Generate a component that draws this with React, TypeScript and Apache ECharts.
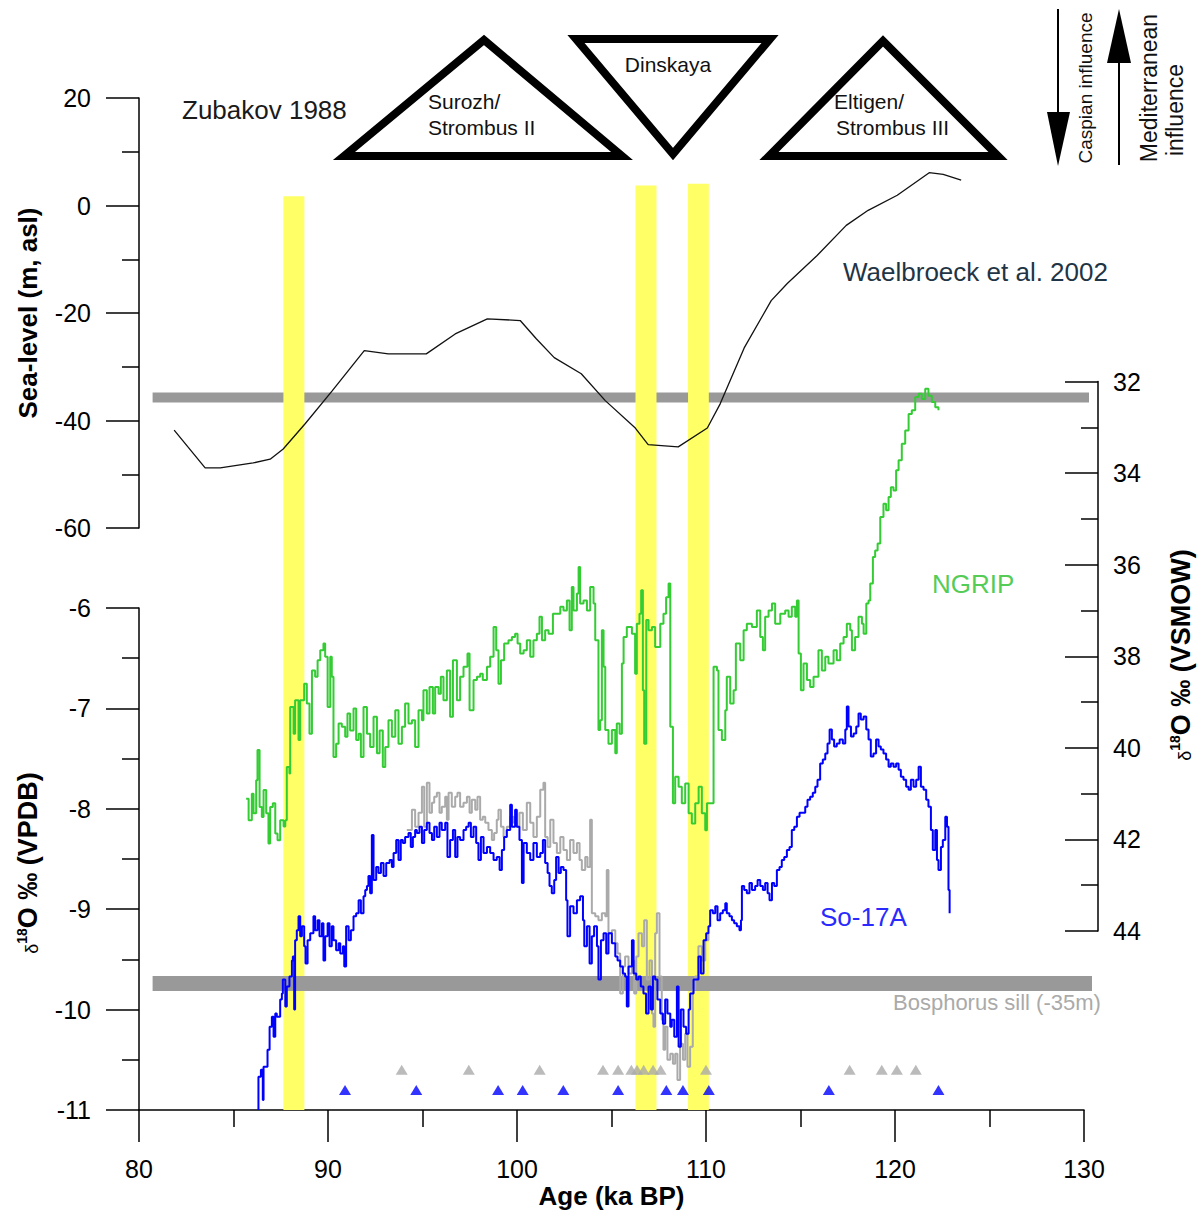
import React, { useEffect, useRef } from "react";
import * as echarts from "echarts";

const FONT = "'Liberation Sans', Arial, Helvetica, sans-serif";

// ---- Waelbroeck et al. 2002 sea level (m asl) ----
const waelbroeckAge = [81.86, 83.5, 84.3, 86.04, 86.94, 87.63, 88.79, 90.22, 91.92, 93.19, 95.2, 96.73, 98.43, 100.17, 101.02, 101.97, 103.4, 104.67, 106.26, 106.94, 108.53, 110.07, 110.75, 112.02, 113.45, 114.3, 115.88, 117.42, 118.58, 120.12, 121.81, 122.55, 123.5];
const waelbroeckSeaLevel = [-41.8, -48.8, -48.8, -47.9, -47.2, -45.3, -40.6, -34.5, -27.0, -27.6, -27.6, -23.9, -21.1, -21.4, -24.8, -28.3, -31.3, -36.3, -41.4, -44.5, -44.9, -41.4, -36.9, -26.5, -17.7, -14.5, -9.3, -3.7, -0.9, 1.9, 6.1, 5.8, 4.7];

// ---- NGRIP d18O (permil VSMOW, plotted on inverted right axis) ----
const ngripAge = [85.67, 85.8, 85.97, 86.06, 86.2, 86.27, 86.38, 86.5, 86.59, 86.73, 86.85, 86.94, 87.08, 87.21, 87.33, 87.47, 87.65, 87.74, 87.82, 87.96, 88.0, 88.18, 88.26, 88.44, 88.53, 88.74, 88.88, 89.02, 89.15, 89.32, 89.45, 89.59, 89.76, 89.85, 89.98, 90.12, 90.2, 90.29, 90.43, 90.56, 90.73, 90.91, 91.03, 91.17, 91.35, 91.49, 91.62, 91.74, 91.88, 92.06, 92.23, 92.41, 92.59, 92.73, 92.9, 93.03, 93.2, 93.38, 93.56, 93.73, 93.91, 94.08, 94.26, 94.44, 94.61, 94.79, 94.97, 95.05, 95.23, 95.37, 95.55, 95.67, 95.85, 95.97, 96.11, 96.29, 96.46, 96.61, 96.82, 96.99, 97.17, 97.38, 97.49, 97.7, 97.88, 98.05, 98.19, 98.41, 98.58, 98.76, 98.9, 99.02, 99.15, 99.32, 99.55, 99.73, 99.9, 100.03, 100.17, 100.35, 100.52, 100.7, 100.87, 101.05, 101.19, 101.32, 101.49, 101.67, 101.9, 102.11, 102.29, 102.46, 102.64, 102.78, 102.9, 102.99, 103.17, 103.26,
  103.34, 103.52, 103.7, 103.87, 104.05, 104.14, 104.31, 104.4, 104.49, 104.58, 104.67, 104.84, 105.02, 105.2, 105.28, 105.43, 105.55, 105.64, 105.81, 106.08, 106.25, 106.34, 106.48, 106.57, 106.66, 106.73, 106.84, 106.96, 107.14, 107.31, 107.58, 107.75, 107.89, 108.02, 108.11, 108.25, 108.37, 108.55, 108.72, 108.9, 109.08, 109.25, 109.43, 109.61, 109.78, 109.96, 110.05, 110.31, 110.4, 110.58, 110.66, 110.84, 111.02, 111.1, 111.28, 111.46, 111.58, 111.81, 111.99, 112.16, 112.43, 112.69, 112.87, 113.01, 113.13, 113.31, 113.49, 113.66, 113.93, 114.19, 114.37, 114.54, 114.72, 114.81, 114.9, 115.02, 115.16, 115.34, 115.51, 115.69, 115.95, 116.13, 116.31, 116.48, 116.75, 116.92, 117.1, 117.28, 117.45, 117.63, 117.72, 117.89, 118.07, 118.25, 118.34, 118.48, 118.6, 118.69, 118.83, 118.95, 119.08, 119.22, 119.39, 119.53, 119.66, 119.78, 119.92, 120.06, 120.19, 120.36, 120.54, 120.72, 120.89, 121.07, 121.25, 121.42, 121.6, 121.77, 121.95, 122.13, 122.3];
const ngripD18O = [41.11, 41.58, 41.0, 41.43, 40.71, 40.05, 41.29, 41.51, 40.92, 41.43, 42.09, 41.29, 41.21, 41.87, 42.02, 41.58, 41.72, 41.58, 40.42, 40.56, 39.11, 39.69, 38.96, 39.83, 38.96, 38.6, 39.03, 39.69, 38.31, 38.45, 38.09, 37.87, 37.72, 38.01, 39.11, 38.01, 38.45, 40.2, 39.91, 39.47, 39.54, 39.76, 39.25, 39.62, 39.14, 39.83, 39.69, 40.2, 39.11, 39.69, 39.98, 39.32, 40.12, 39.62, 40.42, 39.98, 39.4, 39.76, 39.18, 39.91, 39.54, 39.03, 39.47, 39.4, 39.98, 39.18, 39.4, 38.74, 39.25, 38.67, 39.25, 38.67, 38.82, 38.45, 38.96, 38.31, 39.32, 38.09, 38.96, 38.45, 38.23, 37.94, 39.18, 38.52, 38.45, 38.38, 38.52, 38.23, 38.01, 37.36, 37.87, 38.6, 38.09, 37.72, 37.65, 37.58, 37.51, 37.72, 37.94, 37.87, 37.65, 38.01, 37.65, 37.51, 37.14, 37.65, 37.43, 37.51, 37.07, 37.07, 36.92, 37.0, 36.78, 37.43, 36.49, 37.0, 36.63, 36.05,
  36.85, 36.78, 37.0, 36.49, 36.85, 37.65, 39.61, 39.4, 37.43, 38.23, 39.61, 39.91, 39.61, 40.12, 39.47, 39.69, 38.16, 37.58, 37.36, 37.51, 38.38, 37.29, 37.07, 36.56, 38.74, 39.91, 37.21, 37.43, 37.36, 37.8, 37.29, 37.07, 36.71, 36.41, 39.54, 41.21, 40.63, 40.85, 41.21, 40.78, 41.43, 41.65, 41.21, 40.85, 41.43, 41.8, 41.21, 41.21, 38.23, 38.31, 39.61, 39.83, 39.18, 38.45, 39.03, 38.74, 37.72, 38.09, 37.43, 37.29, 37.36, 37.0, 37.58, 37.87, 37.14, 37.0, 36.85, 37.29, 37.07, 37.0, 37.14, 36.92, 37.14, 36.78, 37.94, 38.74, 38.16, 38.52, 38.67, 38.45, 37.87, 38.31, 38.01, 38.16, 37.87, 38.09, 37.72, 37.58, 37.29, 37.43, 37.87, 37.58, 37.14, 37.29, 37.51, 36.85, 36.78, 36.41, 35.83, 35.69, 35.54, 34.96, 34.67, 34.81, 34.52, 34.31, 34.38, 33.94, 33.72, 33.36, 33.07, 32.71, 32.63, 32.34, 32.27, 32.38, 32.16, 32.31, 32.45, 32.56, 32.63];

// ---- So-17A d18O (permil VPDB) ----
const so17Age = [86.32, 86.32, 86.45, 86.55, 86.59, 86.73, 86.8, 86.91, 87.03, 87.12, 87.21, 87.29, 87.47, 87.56, 87.61, 87.74, 87.82, 87.96, 88.09, 88.14, 88.21, 88.26, 88.35, 88.44, 88.53, 88.62, 88.74, 88.81, 88.92, 89.06, 89.23, 89.32, 89.45, 89.55, 89.68, 89.76, 89.85, 89.98, 90.08, 90.2, 90.29, 90.43, 90.56, 90.65, 90.79, 90.86, 90.96, 91.09, 91.21, 91.35, 91.49, 91.62, 91.74, 91.88, 91.97, 92.06, 92.14, 92.23, 92.32, 92.41, 92.55, 92.67, 92.8, 92.94, 93.08, 93.26, 93.38, 93.47, 93.61, 93.73, 93.85, 93.96, 94.08, 94.26, 94.38, 94.49, 94.61, 94.7, 94.84, 94.97, 95.09, 95.23, 95.37, 95.5, 95.62, 95.76, 95.9, 96.02, 96.2, 96.32, 96.46, 96.61, 96.73, 96.85, 96.99, 97.17, 97.31, 97.44, 97.56, 97.7, 97.84, 97.96, 98.09, 98.23, 98.41, 98.58, 98.76, 98.93, 99.08, 99.2, 99.32, 99.46, 99.64, 99.73, 99.9, 99.99, 100.13, 100.26, 100.35, 100.52, 100.7, 100.87, 101.05, 101.23, 101.37, 101.49, 101.62, 101.72, 101.84, 101.97, 102.07, 102.2, 102.32, 102.46, 102.6, 102.67, 102.81, 102.99, 103.17, 103.34, 103.49, 103.56, 103.7, 103.84, 103.96, 104.08, 104.23, 104.31, 104.44, 104.58, 104.72, 104.84, 105.02, 105.2, 105.32, 105.46, 105.6, 105.72, 105.81, 105.9, 106.08, 106.17, 106.31, 106.43, 106.55, 106.69, 106.83, 106.96, 107.08, 107.19, 107.31, 107.43, 107.58, 107.72, 107.84, 107.96, 108.11, 108.19, 108.32, 108.46, 108.55, 108.67, 108.81, 108.95, 109.08, 109.16,
  109.34, 109.6, 109.73, 109.87, 110.01, 110.13, 110.22, 110.36, 110.49, 110.61, 110.75, 110.89, 111.02, 111.1, 111.24, 111.37, 111.49, 111.63, 111.77, 111.85, 111.9, 112.02, 112.16, 112.3, 112.43, 112.6, 112.73, 112.87, 113.01, 113.13, 113.26, 113.36, 113.49, 113.61, 113.75, 113.89, 114.01, 114.14, 114.28, 114.42, 114.54, 114.67, 114.81, 114.95, 115.07, 115.25, 115.37, 115.51, 115.65, 115.78, 115.9, 116.04, 116.18, 116.31, 116.43, 116.54, 116.66, 116.78, 116.92, 117.07, 117.24, 117.37, 117.45, 117.54, 117.67, 117.81, 117.95, 118.07, 118.19, 118.34, 118.48, 118.6, 118.72, 118.86, 119.0, 119.13, 119.25, 119.39, 119.53, 119.66, 119.78, 119.92, 120.06, 120.19, 120.31, 120.45, 120.59, 120.72, 120.84, 120.98, 121.12, 121.25, 121.37, 121.51, 121.65, 121.77, 121.9, 122.0, 122.13, 122.22, 122.3, 122.43, 122.53, 122.66, 122.75, 122.83, 122.89];
const so17D18O = [-11.0, -10.67, -10.6, -10.9, -10.57, -10.57, -10.4, -10.17, -10.07, -10.27, -10.04, -10.07, -9.9, -9.84, -9.7, -9.97, -9.77, -9.67, -9.51, -9.47, -10.0, -9.31, -9.21, -9.07, -9.27, -9.17, -9.37, -9.54, -9.31, -9.24, -9.07, -9.21, -9.11, -9.27, -9.14, -9.51, -9.27, -9.14, -9.37, -9.17, -9.31, -9.41, -9.34, -9.44, -9.37, -9.57, -9.17, -9.31, -9.21, -9.07, -9.04, -8.91, -9.04, -8.87, -8.81, -8.77, -8.67, -8.84, -8.26, -8.71, -8.58, -8.64, -8.54, -8.67, -8.54, -8.51, -8.58, -8.44, -8.31, -8.51, -8.31, -8.34, -8.28, -8.24, -8.38, -8.28, -8.21, -8.24, -8.18, -8.34, -8.21, -8.14, -8.24, -8.31, -8.18, -8.28, -8.14, -8.21, -8.14, -8.48, -8.31, -8.21, -8.48, -8.28, -8.31, -8.21, -8.18, -8.14, -8.28, -8.18, -8.34, -8.51, -8.28, -8.44, -8.38, -8.44, -8.51, -8.48, -8.61, -8.41, -8.28, -8.21, -7.96, -8.18, -8.01, -8.18, -8.31, -8.74, -8.34, -8.44, -8.51, -8.34, -8.48, -8.44, -8.31, -8.54, -8.64, -8.77, -8.84, -8.71, -8.48, -8.64, -8.58, -8.61, -8.91, -9.27, -8.97, -9.04, -8.91, -8.87, -9.11, -9.37, -9.17, -9.54, -9.27, -9.17, -9.37, -9.7, -9.31, -9.24, -9.44, -9.24, -9.34, -9.47, -9.51, -9.57, -9.64, -9.67, -9.97, -9.57, -9.31, -9.64, -9.7, -9.67, -9.77, -9.84, -10.04, -9.77, -10.0, -9.67, -9.7, -9.9, -10.04, -10.14, -9.9, -10.04, -10.17, -10.1, -10.27, -9.77, -10.37, -10.0, -10.17, -10.24, -10.0, -9.84,
  -9.7, -9.47, -9.64, -9.31, -9.24, -9.17, -9.01, -9.04, -8.97, -9.11, -9.04, -9.01, -8.94, -9.04, -9.07, -9.11, -9.14, -9.17, -9.21, -9.11, -8.77, -8.81, -8.84, -8.74, -8.81, -8.77, -8.71, -8.77, -8.81, -8.74, -8.84, -8.91, -8.74, -8.77, -8.61, -8.58, -8.51, -8.48, -8.41, -8.38, -8.21, -8.18, -8.08, -8.04, -8.04, -7.98, -7.91, -7.88, -7.84, -7.78, -7.71, -7.55, -7.51, -7.45, -7.35, -7.21, -7.31, -7.38, -7.35, -7.31, -7.35, -7.21, -6.98, -7.18, -7.28, -7.25, -7.18, -7.05, -7.11, -7.08, -7.21, -7.31, -7.48, -7.45, -7.31, -7.38, -7.41, -7.45, -7.51, -7.58, -7.55, -7.58, -7.55, -7.61, -7.68, -7.71, -7.78, -7.81, -7.71, -7.78, -7.71, -7.58, -7.78, -7.81, -7.91, -7.98, -8.21, -8.41, -8.21, -8.51, -8.61, -8.38, -8.31, -8.08, -8.18, -8.81, -9.04];

// ---- second (grey) d18O record, permil VPDB ----
const greyAge = [94.17, 94.44, 94.61, 94.79, 94.97, 95.09, 95.23, 95.37, 95.5, 95.62, 95.76, 95.9, 96.02, 96.2, 96.29, 96.38, 96.55, 96.73, 96.85, 96.99, 97.17, 97.35, 97.49, 97.61, 97.79, 97.91, 98.05, 98.19, 98.32, 98.49, 98.67, 98.79, 98.93, 99.02, 99.15, 99.29, 99.46, 99.64, 99.82, 99.96, 100.13, 100.31, 100.52, 100.7, 100.87, 101.05, 101.23, 101.4, 101.49, 101.62, 101.76, 101.93, 102.11, 102.29, 102.46, 102.64, 102.81, 102.99, 103.17, 103.31, 103.43, 103.61, 103.73, 103.87, 103.96, 104.14, 104.31, 104.49, 104.67, 104.75, 104.84, 105.02, 105.2, 105.32, 105.46, 105.6, 105.72, 105.9, 106.08, 106.2, 106.31, 106.43, 106.61, 106.73, 106.87, 107.01, 107.14, 107.22, 107.31, 107.4, 107.54, 107.66, 107.75, 107.84, 107.96, 108.11, 108.25, 108.37, 108.49, 108.63, 108.78, 108.9, 109.02, 109.16, 109.3, 109.43, 109.6, 109.78, 109.96, 110.13];
const greyD18O = [-8.21, -8.01, -8.18, -8.04, -7.78, -8.18, -7.74, -8.04, -7.94, -7.88, -7.84, -8.04, -7.98, -7.88, -8.11, -7.84, -7.98, -7.88, -7.84, -7.98, -7.94, -7.88, -8.04, -7.91, -8.01, -7.88, -8.11, -8.08, -8.14, -8.21, -8.31, -8.24, -8.11, -8.01, -8.18, -8.28, -8.18, -8.08, -8.14, -8.18, -8.04, -8.21, -7.94, -8.14, -8.28, -8.08, -7.81, -7.74, -8.28, -8.38, -8.11, -8.34, -8.44, -8.28, -8.41, -8.51, -8.31, -8.44, -8.34, -8.51, -8.61, -8.48, -8.58, -8.11, -9.04, -9.07, -9.11, -9.04, -9.07, -8.61, -9.24, -9.21, -9.34, -9.44, -9.84, -9.57, -9.47, -9.64, -9.51, -9.84, -9.47, -9.24, -9.37, -9.11, -9.7, -9.51, -10.04, -10.17, -9.24, -9.04, -9.67, -10.1, -10.4, -10.17, -10.5, -10.44, -10.54, -10.44, -10.7, -10.34, -10.5, -10.24, -10.57, -10.37, -9.8, -9.67, -9.37, -9.51, -9.31, -9.24];

// ---- dating points (ka) ----
const greyDatesAge = [93.9, 97.45, 101.2, 104.55, 105.35, 106.05, 106.35, 106.7, 107.2, 107.6, 110.0, 117.6, 119.3, 120.1, 121.1];
const blueDatesAge = [90.9, 94.67, 99.0, 100.3, 102.45, 105.35, 107.9, 108.78, 110.15, 116.5, 122.3];
const greyDatesLevel = -10.6;
const blueDatesLevel = -10.8;

// ---- highlighted intervals: [start ka, end ka, top (m asl scale)] ----
const bandStart = [87.64, 106.27, 109.05];
const bandEnd = [88.75, 107.38, 110.15];
const bandTop = [1.7, 3.7, 4.0];

// ---- reference levels ----
const bosphorusSillSeaLevel = -35.7;
const bosphorusSillD18O = -9.74;
const sillAgeRange = [80.72, 130.7];

// axis ranges
const ageMin = 80, ageMax = 130;
const seaMin = -60, seaMax = 20;
const vpdbMin = -11, vpdbMax = -6;
const vsmowMin = 32, vsmowMax = 44;
const bgMin = -168.6; // sea-level scale extended down to the age axis

const zip = (a: number[], b: number[]) => a.slice(0, Math.min(a.length, b.length)).map((v, i) => [v, b[i]]);

const black = "#000";
const axisLine = { color: black, width: 1.5 };

function buildOption(): any {
  const xAxes = [0, 1, 2, 3].map((i) => ({
    type: "value",
    gridIndex: i,
    min: ageMin,
    max: ageMax,
    interval: 10,
    show: i === 1,
    axisLine: { show: true, onZero: false, lineStyle: axisLine },
    axisTick: { show: true, length: 32, lineStyle: axisLine },
    minorTick: { show: true, splitNumber: 2, length: 17, lineStyle: axisLine },
    axisLabel: { color: black, fontSize: 25, fontFamily: FONT, margin: 46 },
    splitLine: { show: false },
    name: i === 1 ? "Age (ka BP)" : "",
    nameLocation: "middle",
    nameGap: 73,
    nameTextStyle: { color: black, fontSize: 26, fontWeight: "bold", fontFamily: FONT },
  }));

  const leftAxisCommon = {
    type: "value",
    position: "left",
    axisLine: { show: true, onZero: false, lineStyle: axisLine },
    axisTick: { show: true, length: 33, lineStyle: axisLine },
    minorTick: { show: true, splitNumber: 2, length: 17, lineStyle: axisLine },
    axisLabel: { color: black, fontSize: 25, fontFamily: FONT, margin: 48 },
    splitLine: { show: false },
  };

  const yAxes = [
    { ...leftAxisCommon, gridIndex: 0, min: seaMin, max: seaMax, interval: 20 },
    { ...leftAxisCommon, gridIndex: 1, min: vpdbMin, max: vpdbMax, interval: 1 },
    {
      ...leftAxisCommon,
      gridIndex: 2,
      position: "right",
      offset: 14,
      inverse: true,
      min: vsmowMin,
      max: vsmowMax,
      interval: 2,
      axisTick: { show: true, inside: true, length: 33, lineStyle: axisLine },
      axisLabel: { color: black, fontSize: 25, fontFamily: FONT, margin: 15 },
    },
    { type: "value", gridIndex: 3, min: bgMin, max: seaMax, show: false, splitLine: { show: false } },
  ];

  const grids = [
    { left: 139, top: 98, width: 945, height: 430 },
    { left: 139, top: 608, width: 945, height: 502 },
    { left: 139, top: 381.5, width: 945, height: 549.5 },
    { left: 139, top: 98, width: 945, height: 1012 },
  ];

  const bandData = bandStart.map((s, i) => [s, bandEnd[i], bandTop[i]]);

  const series: any[] = [
    {
      type: "line",
      name: "sill-sea",
      xAxisIndex: 0,
      yAxisIndex: 0,
      data: sillAgeRange.map((a) => [a, bosphorusSillSeaLevel]),
      symbol: "none",
      clip: false,
      lineStyle: { color: "#999999", width: 10 },
      z: 1,
      silent: true,
    },
    {
      type: "custom",
      name: "bands",
      xAxisIndex: 3,
      yAxisIndex: 3,
      data: bandData,
      clip: false,
      z: 2,
      renderItem: (params: any, api: any) => {
        const p0 = api.coord([api.value(0), api.value(2)]);
        const p1 = api.coord([api.value(1), bgMin]);
        return {
          type: "rect",
          shape: { x: p0[0], y: p0[1], width: p1[0] - p0[0], height: p1[1] - p0[1] },
          style: { fill: "#ffff66" },
        };
      },
      silent: true,
    },
    {
      type: "line",
      name: "sill-d18o",
      xAxisIndex: 1,
      yAxisIndex: 1,
      data: sillAgeRange.map((a) => [a, bosphorusSillD18O]),
      symbol: "none",
      clip: false,
      lineStyle: { color: "#999999", width: 15 },
      z: 3,
      silent: true,
    },
    {
      type: "line",
      name: "Waelbroeck",
      xAxisIndex: 0,
      yAxisIndex: 0,
      data: zip(waelbroeckAge, waelbroeckSeaLevel),
      symbol: "none",
      clip: false,
      lineStyle: { color: "#111", width: 1.3 },
      z: 6,
    },
    {
      type: "line",
      name: "grey",
      xAxisIndex: 1,
      yAxisIndex: 1,
      data: zip(greyAge, greyD18O),
      symbol: "none",
      step: "end",
      clip: false,
      lineStyle: { color: "#aaaaaa", width: 2 },
      z: 4,
    },
    {
      type: "line",
      name: "So-17A",
      xAxisIndex: 1,
      yAxisIndex: 1,
      data: zip(so17Age, so17D18O),
      symbol: "none",
      step: "end",
      clip: false,
      lineStyle: { color: "#0000ff", width: 2 },
      z: 5,
    },
    {
      type: "line",
      name: "NGRIP",
      xAxisIndex: 2,
      yAxisIndex: 2,
      data: zip(ngripAge, ngripD18O),
      symbol: "none",
      step: "end",
      clip: false,
      lineStyle: { color: "#33cc33", width: 2 },
      z: 5,
    },
    {
      type: "scatter",
      name: "grey dates",
      xAxisIndex: 1,
      yAxisIndex: 1,
      data: greyDatesAge.map((a) => [a, greyDatesLevel]),
      symbol: "triangle",
      symbolSize: [12, 10],
      itemStyle: { color: "#aaaaaa" },
      z: 7,
    },
    {
      type: "scatter",
      name: "blue dates",
      xAxisIndex: 1,
      yAxisIndex: 1,
      data: blueDatesAge.map((a) => [a, blueDatesLevel]),
      symbol: "triangle",
      symbolSize: [12, 10],
      itemStyle: { color: "#0000ff" },
      z: 7,
    },
  ];

  const txt = (text: string, x: number, y: number, font: string, fill: string, align = "left", rotation = 0) => ({
    type: "text",
    x,
    y,
    rotation,
    z: 100,
    style: {
      text,
      font,
      fill,
      textAlign: align,
      textVerticalAlign: "middle",
      align,
      verticalAlign: "middle",
    },
  });

  const richName = (label: string, x: number, y: number) => ({
    type: "text",
    x,
    y,
    rotation: Math.PI / 2,
    z: 100,
    style: {
      text: `{d|δ}{s|18}{b|O ‰ (${label})}`,
      textAlign: "center",
      textVerticalAlign: "middle",
      align: "center",
      verticalAlign: "middle",
      rich: {
        d: { font: `18px ${FONT}`, fill: black, verticalAlign: "bottom", lineHeight: 26 },
        s: { font: `bold 14px ${FONT}`, fill: black, verticalAlign: "top", lineHeight: 26 },
        b: { font: `bold 27px ${FONT}`, fill: black, verticalAlign: "bottom", lineHeight: 26 },
      },
    },
  });

  const triStyle = { fill: "none", stroke: black, lineWidth: 8, lineJoin: "miter" };
  const graphic: any[] = [
    { type: "polygon", z: 100, shape: { points: [[344, 156], [484, 40], [622, 156]] }, style: triStyle },
    { type: "polygon", z: 100, shape: { points: [[576, 39], [770, 39], [673, 154]] }, style: triStyle },
    { type: "polygon", z: 100, shape: { points: [[769, 156], [883, 41], [998, 156]] }, style: triStyle },
    txt("Surozh/", 428, 101, `21px ${FONT}`, "#111"),
    txt("Strombus II", 428, 127, `21px ${FONT}`, "#111"),
    txt("Dinskaya", 668, 64, `21px ${FONT}`, "#111", "center"),
    txt("Eltigen/", 834, 101, `21px ${FONT}`, "#111"),
    txt("Strombus III", 836, 127, `21px ${FONT}`, "#111"),
    txt("Zubakov 1988", 182, 110, `26px ${FONT}`, "#1a1a1a"),
    txt("Waelbroeck et al. 2002", 843, 272, `26px ${FONT}`, "#1f3545"),
    txt("NGRIP", 932, 584, `26px ${FONT}`, "#55cc55"),
    txt("So-17A", 820, 917, `26px ${FONT}`, "#2a2aff"),
    txt("Bosphorus sill (-35m)", 893, 1002, `22px ${FONT}`, "#aaaaaa"),
    // arrows
    { type: "line", z: 100, shape: { x1: 1058, y1: 9, x2: 1058, y2: 140 }, style: { stroke: black, lineWidth: 2 } },
    { type: "polygon", z: 100, shape: { points: [[1047, 112], [1070, 112], [1058, 166]] }, style: { fill: black } },
    { type: "line", z: 100, shape: { x1: 1119, y1: 40, x2: 1119, y2: 165 }, style: { stroke: black, lineWidth: 2 } },
    { type: "polygon", z: 100, shape: { points: [[1107, 63], [1131, 63], [1119, 9]] }, style: { fill: black } },
    txt("Caspian influence", 1085, 88, `19px ${FONT}`, "#111", "center", Math.PI / 2),
    txt("Mediterranean", 1149, 88, `23px ${FONT}`, "#111", "center", Math.PI / 2),
    txt("influence", 1175, 110, `23px ${FONT}`, "#111", "center", Math.PI / 2),
    // axis titles
    txt("Sea-level (m, asl)", 28, 313, `bold 26px ${FONT}`, black, "center", Math.PI / 2),
    richName("VPDB", 28, 863),
    richName("VSMOW", 1181, 655),
  ];

  return {
    animation: false,
    backgroundColor: "#ffffff",
    grid: grids,
    xAxis: xAxes,
    yAxis: yAxes,
    series,
    graphic,
  };
}

export default function App() {
  const ref = useRef<HTMLDivElement>(null);
  useEffect(() => {
    if (!ref.current) return;
    const chart = echarts.init(ref.current, null, { renderer: "svg" });
    chart.setOption(buildOption());
    return () => chart.dispose();
  }, []);
  return (
    <div
      ref={ref}
      style={{ position: "absolute", left: 0, top: 0, width: 1197, height: 1215, background: "#fff" }}
    />
  );
}
